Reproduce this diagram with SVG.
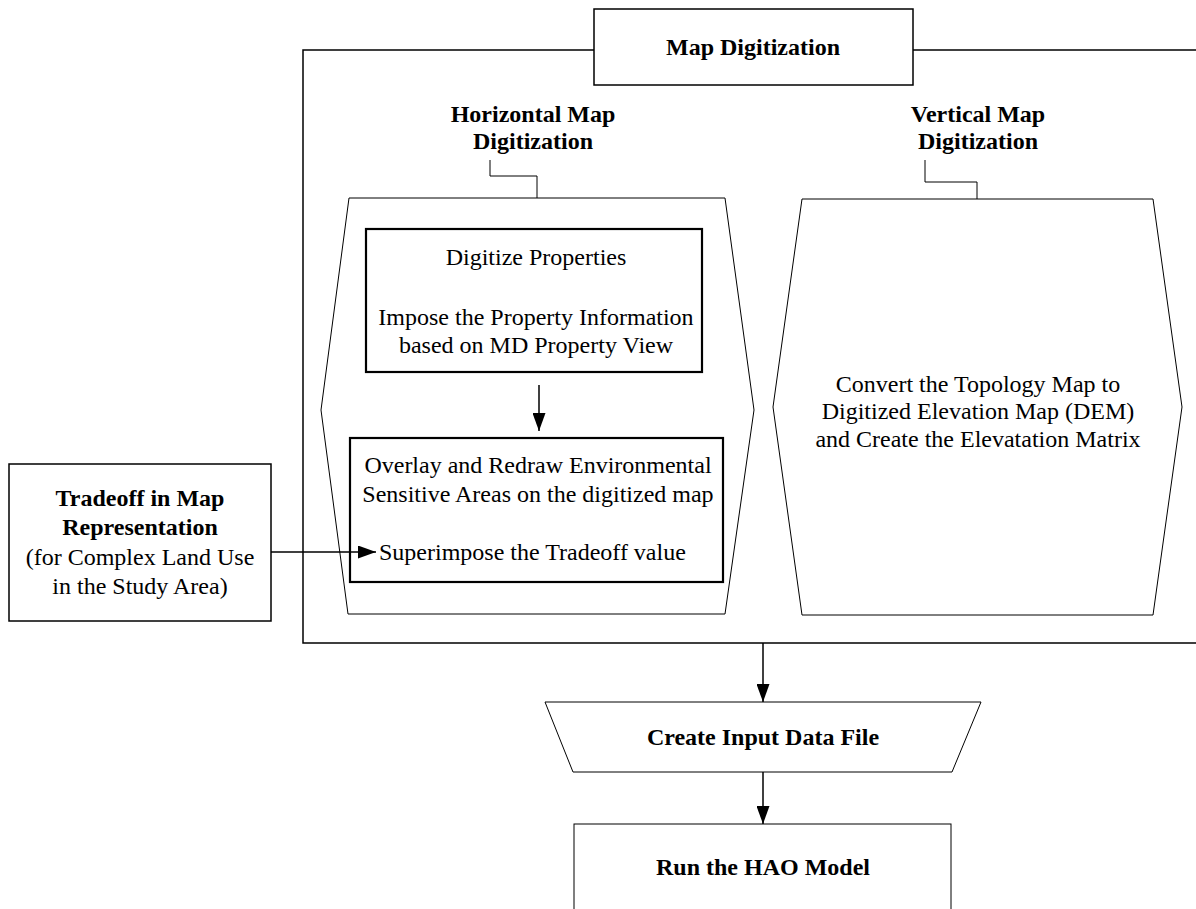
<svg xmlns="http://www.w3.org/2000/svg" width="1196" height="909" viewBox="0 0 1196 909">
<defs>
<marker id="ah" viewBox="0 0 18 13" refX="18" refY="6.5" markerWidth="18" markerHeight="13" markerUnits="userSpaceOnUse" orient="auto">
<path d="M0,0 L18,6.5 L0,13 Z" fill="#000"/>
</marker>
<style>
text{font-family:"Liberation Serif","Times New Roman",serif;font-size:24px;fill:#000;text-anchor:middle}
.b{font-weight:bold}
.l{text-anchor:start}
.thin{fill:#fff;stroke:#000;stroke-width:1}
.med{fill:#fff;stroke:#000;stroke-width:1.5}
.thick{fill:#fff;stroke:#000;stroke-width:2.2}
.conn{fill:none;stroke:#000;stroke-width:1.5}
.conn1{fill:none;stroke:#000;stroke-width:1}
</style>
</defs>
<rect width="1196" height="909" fill="#fff"/>
<g id="frame">
<path class="conn" d="M594,50 H303 V643 H1196"/>
<path class="conn" d="M913,50 H1196"/>
</g>
<g id="map-digitization">
<rect class="med" x="594" y="9" width="319" height="76"/>
<text class="b" x="753" y="55">Map Digitization</text>
</g>
<g id="horizontal-label">
<text class="b" x="533" y="122">Horizontal Map</text>
<text class="b" x="533" y="149">Digitization</text>
</g>
<g id="vertical-label">
<text class="b" x="978" y="122">Vertical Map</text>
<text class="b" x="978" y="149">Digitization</text>
</g>
<g id="horizontal-hex">
<polygon class="thin" points="349,198 725,198 754,410 725,614 348,614 321,410"/>
</g>
<g id="vertical-hex">
<polygon class="thin" points="802,199 1153,199 1182,407 1153,615 802,615 773,407"/>
<text x="978" y="392">Convert the Topology Map to</text>
<text x="978" y="419">Digitized Elevation Map (DEM)</text>
<text x="978" y="447">and Create the Elevatation Matrix</text>
</g>
<g id="digitize-properties">
<rect class="thick" x="366" y="229" width="336" height="143"/>
<text x="536" y="265">Digitize Properties</text>
<text x="536" y="325">Impose the Property Information</text>
<text x="536" y="353">based on MD Property View</text>
</g>
<g id="overlay">
<rect class="thick" x="350" y="438" width="373" height="144"/>
<text x="538" y="473">Overlay and Redraw Environmental</text>
<text x="538" y="502">Sensitive Areas on the digitized map</text>
<text class="l" x="379" y="560">Superimpose the Tradeoff value</text>
</g>
<g id="tradeoff">
<rect class="med" x="9" y="464" width="262" height="157"/>
<text class="b" x="140" y="506">Tradeoff in Map</text>
<text class="b" x="140" y="535">Representation</text>
<text x="140" y="565">(for Complex Land Use</text>
<text x="140" y="594">in the Study Area)</text>
</g>
<g id="create-input">
<polygon class="thin" points="545,702 981,702 952,772 573,772"/>
<text class="b" x="763" y="745">Create Input Data File</text>
</g>
<g id="run-hao">
<rect class="thin" x="574" y="824" width="377" height="100"/>
<text class="b" x="763" y="875">Run the HAO Model</text>
</g>
<g id="connectors">
<path class="conn1" d="M490,160 V176 H537 V198"/>
<path class="conn1" d="M925,160 V182 H977 V199"/>
<path class="conn" d="M539,385 V431" marker-end="url(#ah)"/>
<path class="conn" d="M271,552 H376" marker-end="url(#ah)"/>
<path class="conn" d="M763,643 V702" marker-end="url(#ah)"/>
<path class="conn" d="M763,772 V824" marker-end="url(#ah)"/>
</g>
</svg>
